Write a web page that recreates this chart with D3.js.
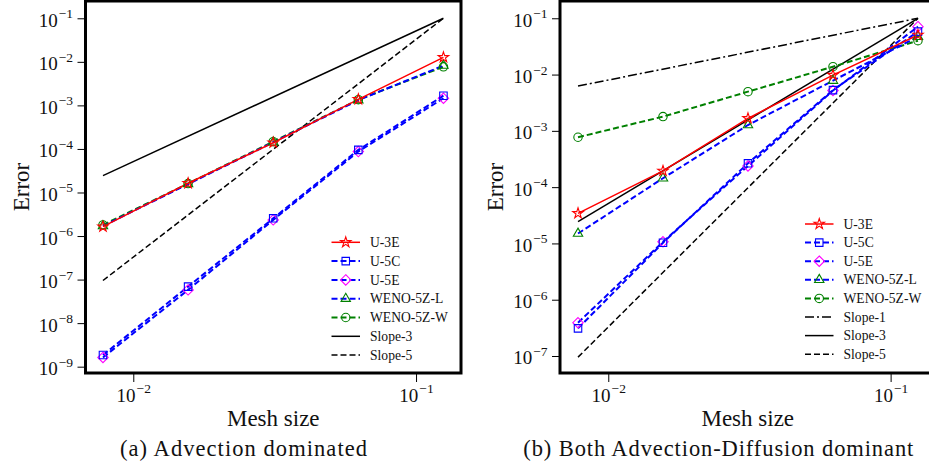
<!DOCTYPE html>
<html>
<head>
<meta charset="utf-8">
<script src="https://cdn.jsdelivr.net/npm/d3@7"></script>
<style>
  html, body { margin: 0; padding: 0; background: #fff; }
  svg { display: block; }
  text { font-family: "Liberation Serif", "DejaVu Serif", serif; fill: #111; }
</style>
</head>
<body>
<svg id="fig" width="929" height="468"></svg>
<script>
// Mesh sizes h = 1/128 ... 1/8
const meshSizes = [0.0078125, 0.015625, 0.03125, 0.0625, 0.125];
const slopeEnds = [0.0078125, 0.125];

// (a) Advection dominated: L2 errors
const u3eA  = [1.64e-6, 1.63e-5, 1.39e-4, 1.38e-3, 1.27e-2];
const u5cA  = [1.85e-9, 6.9e-8, 2.55e-6, 9.5e-5, 1.67e-3];
const u5eA  = [1.63e-9, 5.8e-8, 2.35e-6, 8.7e-5, 1.46e-3];
const w5lA  = [1.70e-6, 1.56e-5, 1.42e-4, 1.32e-3, 8.2e-3];
const w5wA  = [1.80e-6, 1.60e-5, 1.47e-4, 1.35e-3, 7.7e-3];

// (b) Both advection-diffusion dominant: L2 errors
const u3eB  = [3.43e-5, 1.94e-4, 1.67e-3, 9.8e-3, 5.05e-2];
const u5cB  = [3.1e-7, 1.03e-5, 2.65e-4, 5.3e-3, 5.8e-2];
const u5eB  = [3.9e-7, 1.07e-5, 2.38e-4, 5.2e-3, 7.1e-2];
const w5lB  = [1.5e-5, 1.44e-4, 1.27e-3, 7.8e-3, 4.7e-2];
const w5wB  = [7.7e-4, 1.79e-3, 4.97e-3, 1.38e-2, 4.0e-2];

// Reference slopes (end points)
const slope1 = [6.25e-3, 0.1];
const slope3 = [2.44e-5, 0.1];
const slope5 = [9.54e-8, 0.1];

const xTickVals = [0.01, 0.1];
const xTickExp  = ["2", "1"];
const yTickExpA = [1, 2, 3, 4, 5, 6, 7, 8, 9];
const yTickExpB = [1, 2, 3, 4, 5, 6, 7];

const captions = ["(a) Advection dominated", "(b) Both Advection-Diffusion dominant"];

const RED = "#ff0000", BLUE = "#0000ff", MAG = "#ff00ff", GREEN = "#008000", BLACK = "#000";

function seriesSet(u3e, u5c, u5e, w5l, w5w) {
  return [
    { name: "U-3E",      x: meshSizes, y: u3e, color: RED,   dash: null,  w: 1.5, marker: "star",     mcolor: RED },
    { name: "U-5C",      x: meshSizes, y: u5c, color: BLUE,  dash: "6,3", w: 2,   marker: "square",   mcolor: BLUE },
    { name: "U-5E",      x: meshSizes, y: u5e, color: BLUE,  dash: "6,3", w: 2,   marker: "diamond",  mcolor: MAG },
    { name: "WENO-5Z-L", x: meshSizes, y: w5l, color: BLUE,  dash: "6,3", w: 2,   marker: "triangle", mcolor: GREEN },
    { name: "WENO-5Z-W", x: meshSizes, y: w5w, color: GREEN, dash: "6,3", w: 2,   marker: "circle",   mcolor: GREEN }
  ];
}

const panels = [
  {
    frame: { x0: 85.5, x1: 461, y0: 1, y1: 373 },
    xDom: [Math.pow(10, -2.169), Math.pow(10, -0.841)],
    yDom: [Math.pow(10, -9.145), Math.pow(10, -0.603)],
    yExps: yTickExpA,
    series: seriesSet(u3eA, u5cA, u5eA, w5lA, w5wA).concat([
      { name: "Slope-3", x: slopeEnds, y: slope3, color: BLACK, dash: null, w: 1.5 },
      { name: "Slope-5", x: slopeEnds, y: slope5, color: BLACK, dash: "6,3", w: 1.5 }
    ]),
    legend: { x: 331.5, y: 242.3, dy: 18.8 },
    errorX: 28.5,
    caption: { text: captions[0], cx: 243.5, width: 247 }
  },
  {
    frame: { x0: 560, x1: 935.5, y0: 1, y1: 373 },
    xDom: [Math.pow(10, -2.171), Math.pow(10, -0.841)],
    yDom: [Math.pow(10, -7.302), Math.pow(10, -0.693)],
    yExps: yTickExpB,
    series: seriesSet(u3eB, u5cB, u5eB, w5lB, w5wB).concat([
      { name: "Slope-1", x: slopeEnds, y: slope1, color: BLACK, dash: "9,3,2,3", w: 1.5 },
      { name: "Slope-3", x: slopeEnds, y: slope3, color: BLACK, dash: null, w: 1.5 },
      { name: "Slope-5", x: slopeEnds, y: slope5, color: BLACK, dash: "6,3", w: 1.5 }
    ]),
    legend: { x: 805, y: 224, dy: 18.6 },
    errorX: 503,
    caption: { text: captions[1], cx: 718.3, width: 390 }
  }
];

const svg = d3.select("#fig");

function drawMarker(g, type, color, cx, cy) {
  const common = s => s.attr("fill", "none").attr("stroke", color).attr("stroke-width", 1.1);
  if (type === "circle") {
    common(g.append("circle").attr("cx", cx).attr("cy", cy).attr("r", 4.2));
  } else if (type === "diamond") {
    const r = 5.2;
    common(g.append("path").attr("d", `M${cx},${cy - r}L${cx + r},${cy}L${cx},${cy + r}L${cx - r},${cy}Z`));
  } else {
    const sym = { star: d3.symbolStar, square: d3.symbolSquare, triangle: d3.symbolTriangle }[type];
    const size = { star: 34, square: 56, triangle: 38 }[type];
    common(g.append("path").attr("transform", `translate(${cx},${cy})`)
      .attr("d", d3.symbol().type(sym).size(size)()));
  }
}

function powerLabel(textSel, exp) {
  textSel.text(null);
  textSel.append("tspan").text("10");
  textSel.append("tspan").attr("dy", -8.5).attr("dx", 1).attr("font-size", 13.5).text("\u2212" + exp);
}

panels.forEach((p, pi) => {
  const f = p.frame;
  const x = d3.scaleLog().domain(p.xDom).range([f.x0, f.x1]);
  const y = d3.scaleLog().domain(p.yDom).range([f.y1, f.y0]);
  const g = svg.append("g");

  const clipId = "clip" + pi;
  svg.append("defs").append("clipPath").attr("id", clipId)
    .append("rect").attr("x", f.x0).attr("y", f.y0).attr("width", f.x1 - f.x0).attr("height", f.y1 - f.y0);

  // Axes with decade ticks only
  const yAxis = d3.axisLeft(y)
    .tickValues(p.yExps.map(e => Math.pow(10, -e)))
    .tickSize(8).tickPadding(4).tickFormat(() => "");
  const ya = g.append("g").attr("transform", `translate(${f.x0},0)`).call(yAxis);
  ya.select(".domain").remove();
  ya.selectAll(".tick line").attr("stroke", "#000").attr("stroke-width", 1);
  ya.selectAll(".tick text").attr("font-size", 19).attr("dy", "0.42em").attr("x", -12.5)
    .each(function (d, i) { powerLabel(d3.select(this), p.yExps[i]); });

  const xAxis = d3.axisBottom(x).tickValues(xTickVals).tickSize(9).tickFormat(() => "");
  const xa = g.append("g").attr("transform", `translate(0,${f.y1})`).call(xAxis);
  xa.select(".domain").remove();
  xa.selectAll(".tick line").attr("stroke", "#000").attr("stroke-width", 1);
  xa.selectAll(".tick text").attr("font-size", 19).attr("y", 28.5).attr("dy", 0)
    .attr("text-anchor", "middle")
    .each(function (d, i) { powerLabel(d3.select(this), xTickExp[i]); });

  // Data
  const plot = g.append("g").attr("clip-path", `url(#${clipId})`);
  const line = d3.line().x(d => x(d[0])).y(d => y(d[1]));
  const order = p.series.slice().reverse();
  order.forEach(s => {
    const pts = s.x.map((v, i) => [v, s.y[i]]);
    plot.append("path").attr("d", line(pts))
      .attr("fill", "none").attr("stroke", s.color).attr("stroke-width", s.w)
      .attr("stroke-dasharray", s.dash);
  });
  order.forEach(s => {
    if (!s.marker) return;
    s.x.forEach((v, i) => drawMarker(plot, s.marker, s.mcolor, x(v), y(s.y[i])));
  });

  // Legend
  const lg = g.append("g");
  p.series.forEach((s, i) => {
    const ry = p.legend.y + i * p.legend.dy;
    lg.append("line").attr("x1", p.legend.x).attr("x2", p.legend.x + 28.5)
      .attr("y1", ry).attr("y2", ry)
      .attr("stroke", s.color).attr("stroke-width", s.w).attr("stroke-dasharray", s.dash);
    if (s.marker) drawMarker(lg, s.marker, s.mcolor, p.legend.x + 14.25, ry);
    lg.append("text").attr("x", p.legend.x + 38.5).attr("y", ry + 4.6)
      .attr("font-size", 13.6).text(s.name);
  });

  // Frame
  g.append("rect").attr("x", f.x0).attr("y", f.y0).attr("width", f.x1 - f.x0).attr("height", f.y1 - f.y0)
    .attr("fill", "none").attr("stroke", "#000").attr("stroke-width", 3);

  // Axis titles
  g.append("text").attr("transform", `translate(${p.errorX},${(f.y0 + f.y1) / 2}) rotate(-90)`)
    .attr("text-anchor", "middle").attr("font-size", 23).text("Error");
  g.append("text").attr("x", (f.x0 + f.x1) / 2).attr("y", 426)
    .attr("text-anchor", "middle").attr("font-size", 23).text("Mesh size");

  // Sub-caption
  g.append("text").attr("x", p.caption.cx - p.caption.width / 2).attr("y", 456)
    .attr("font-size", 22.5).attr("textLength", p.caption.width).attr("lengthAdjust", "spacing")
    .text(p.caption.text);
});
</script>
</body>
</html>
